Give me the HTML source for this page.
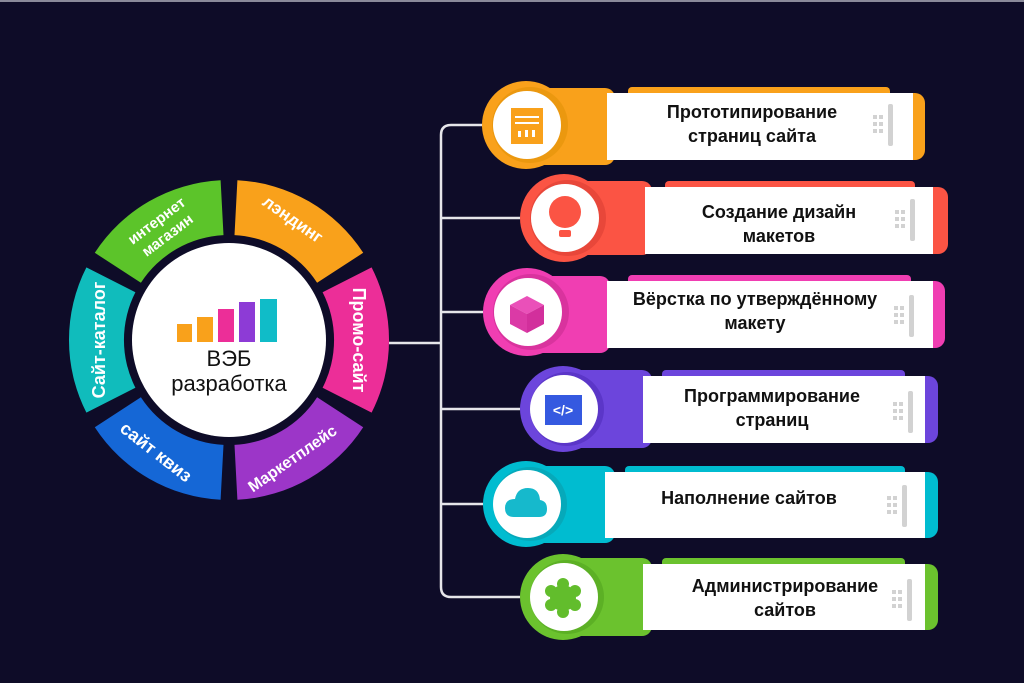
<!DOCTYPE html>
<html><head><meta charset="utf-8"><style>
html,body{margin:0;padding:0;background:#0e0c28;}
svg{display:block}
text{font-family:"Liberation Sans","DejaVu Sans",sans-serif;}
</style></head><body>
<svg width="1024" height="683" viewBox="0 0 1024 683" xmlns="http://www.w3.org/2000/svg">
<rect width="1024" height="683" fill="#0e0c28"/>
<rect width="1024" height="2" fill="#8a8a9a"/>

<g stroke="#e6e6ea" stroke-width="2.5" fill="none">
<path d="M483 125 H451 Q441 125 441 135 V587 Q441 597 451 597 H520"/>
<line x1="389" y1="343" x2="441" y2="343"/>
<line x1="441" y1="218" x2="520" y2="218"/>
<line x1="441" y1="312" x2="483" y2="312"/>
<line x1="441" y1="409" x2="520" y2="409"/>
<line x1="441" y1="504" x2="483" y2="504"/>
</g>

<path d="M371.6 267.4 A160 160 0 0 1 371.6 412.6 L322.6 387.7 A105 105 0 0 0 322.6 292.3 Z" fill="#ec2e98"/>
<path d="M363.2 427.2 A160 160 0 0 1 237.4 499.8 L234.5 444.9 A105 105 0 0 0 317.1 397.2 Z" fill="#9c36c8"/>
<path d="M220.6 499.8 A160 160 0 0 1 94.8 427.2 L140.9 397.2 A105 105 0 0 0 223.5 444.9 Z" fill="#1567d6"/>
<path d="M86.4 412.6 A160 160 0 0 1 86.4 267.4 L135.4 292.3 A105 105 0 0 0 135.4 387.7 Z" fill="#10bcbc"/>
<path d="M94.8 252.8 A160 160 0 0 1 220.6 180.2 L223.5 235.1 A105 105 0 0 0 140.9 282.8 Z" fill="#5cc42a"/>
<path d="M237.4 180.2 A160 160 0 0 1 363.2 252.8 L317.1 282.8 A105 105 0 0 0 234.5 235.1 Z" fill="#f9a11b"/>
<circle cx="229" cy="340" r="97" fill="#fff"/>

<g fill="#fff" font-weight="bold" font-size="16" text-anchor="middle">
<text transform="translate(359,340) rotate(90)" dy="6" font-size="18">Промо-сайт</text>
<text transform="translate(99,340) rotate(-90)" dy="6" font-size="18">Сайт-каталог</text>
<text transform="translate(293,219) rotate(35)" dy="6" font-size="17">лэндинг</text>
<text transform="translate(162,228) rotate(-37)" font-size="15"><tspan x="0" dy="-4">интернет</tspan><tspan x="0" dy="18">магазин</tspan></text>
<text transform="translate(156,452) rotate(38)" dy="6" font-size="18">сайт квиз</text>
<text transform="translate(292,458) rotate(-35)" dy="6" font-size="16">Маркетплейс</text>
</g>

<rect x="177" y="324" width="15" height="18" fill="#f9a11b"/>
<rect x="197" y="317" width="16" height="25" fill="#f9a11b"/>
<rect x="218" y="309" width="16" height="33" fill="#ec2e98"/>
<rect x="239" y="302" width="16" height="40" fill="#8d3bd6"/>
<rect x="260" y="299" width="17" height="43" fill="#10bcc8"/>
<g fill="#111" font-size="22" text-anchor="middle">
<text x="229" y="366">ВЭБ</text>
<text x="229" y="391">разработка</text>
</g>

<rect x="520" y="88" width="95" height="77" rx="10" fill="#f9a11b"/>
<rect x="628" y="87" width="262" height="12" rx="4" fill="#f9a11b"/>
<rect x="890" y="93" width="35" height="67" rx="10" fill="#f9a11b"/>
<rect x="607" y="93" width="306" height="67" fill="#fff"/>
<circle cx="526" cy="125" r="44" fill="#f9a11b"/>
<circle cx="530" cy="125" r="38" fill="#eb980f"/>
<circle cx="527" cy="125" r="34" fill="#fff"/>
<rect x="511" y="108" width="32" height="36" fill="#f9a11b"/>
<rect x="515" y="116" width="24" height="2" fill="#fff"/><rect x="515" y="122" width="24" height="2" fill="#fff"/>
<rect x="518" y="131" width="3" height="6" fill="#fff"/><rect x="525" y="130" width="3" height="7" fill="#fff"/><rect x="532" y="130" width="3" height="7" fill="#fff"/>

<rect x="560" y="181" width="92" height="74" rx="10" fill="#fb5444"/>
<rect x="665" y="181" width="250" height="12" rx="4" fill="#fb5444"/>
<rect x="920" y="187" width="28" height="67" rx="10" fill="#fb5444"/>
<rect x="645" y="187" width="288" height="67" fill="#fff"/>
<circle cx="564" cy="218" r="44" fill="#fb5444"/>
<circle cx="568" cy="218" r="38" fill="#e8473a"/>
<circle cx="565" cy="218" r="34" fill="#fff"/>
<circle cx="565" cy="212" r="16" fill="#fb5444"/>
<rect x="559" y="230" width="12" height="7" rx="2" fill="#fb5444"/>

<rect x="520" y="276" width="90" height="77" rx="10" fill="#f03eb2"/>
<rect x="628" y="275" width="283" height="12" rx="4" fill="#f03eb2"/>
<rect x="920" y="281" width="25" height="67" rx="10" fill="#f03eb2"/>
<rect x="607" y="281" width="326" height="67" fill="#fff"/>
<circle cx="527" cy="312" r="44" fill="#f03eb2"/>
<circle cx="531" cy="312" r="38" fill="#d9339e"/>
<circle cx="528" cy="312" r="34" fill="#fff"/>
<polygon points="527,296 544,305 527,314 510,305" fill="#ea50b9"/>
<polygon points="510,305 527,314 527,333 510,324" fill="#db3aa6"/>
<polygon points="544,305 527,314 527,333 544,324" fill="#d22f9c"/>

<rect x="560" y="370" width="92" height="78" rx="10" fill="#6c45dc"/>
<rect x="662" y="370" width="243" height="12" rx="4" fill="#6c45dc"/>
<rect x="915" y="376" width="23" height="67" rx="10" fill="#6c45dc"/>
<rect x="643" y="376" width="282" height="67" fill="#fff"/>
<circle cx="563" cy="409" r="43" fill="#6c45dc"/>
<circle cx="567" cy="409" r="37" fill="#5b36c8"/>
<circle cx="564" cy="409" r="34" fill="#fff"/>
<rect x="545" y="395" width="37" height="30" fill="#3559e0"/>
<text x="563" y="415" fill="#fff" font-size="14" font-weight="bold" text-anchor="middle">&lt;/&gt;</text>

<rect x="520" y="466" width="95" height="77" rx="10" fill="#00bcd0"/>
<rect x="625" y="466" width="280" height="12" rx="4" fill="#00bcd0"/>
<rect x="915" y="472" width="23" height="66" rx="10" fill="#00bcd0"/>
<rect x="605" y="472" width="320" height="66" fill="#fff"/>
<circle cx="526" cy="504" r="43" fill="#00bcd0"/>
<circle cx="530" cy="504" r="37" fill="#06a9ba"/>
<circle cx="527" cy="504" r="34" fill="#fff"/>
<path d="M514 517 Q505 517 505 508 Q505 499 515 499 Q517 488 528 488 Q539 488 540 500 Q547 501 547 509 Q547 517 539 517 Z" fill="#16b9cc"/>

<rect x="560" y="558" width="92" height="78" rx="10" fill="#6bc22e"/>
<rect x="662" y="558" width="243" height="12" rx="4" fill="#6bc22e"/>
<rect x="915" y="564" width="23" height="66" rx="10" fill="#6bc22e"/>
<rect x="643" y="564" width="282" height="66" fill="#fff"/>
<circle cx="563" cy="597" r="43" fill="#6bc22e"/>
<circle cx="567" cy="597" r="37" fill="#5cb025"/>
<circle cx="564" cy="597" r="34" fill="#fff"/>
<g fill="#62bd2c">
<circle cx="563" cy="598" r="13"/>
<circle cx="563" cy="584" r="6"/><circle cx="563" cy="612" r="6"/>
<circle cx="551" cy="591" r="6"/><circle cx="575" cy="591" r="6"/>
<circle cx="551" cy="605" r="6"/><circle cx="575" cy="605" r="6"/>
</g>

<g fill="#d2d2d2">
<g transform="translate(873,115)"><rect width="4" height="4"/><rect x="6" width="4" height="4"/><rect y="7" width="4" height="4"/><rect x="6" y="7" width="4" height="4"/><rect y="14" width="4" height="4"/><rect x="6" y="14" width="4" height="4"/><rect x="15" y="-11" width="5" height="42" rx="2"/></g>
<g transform="translate(895,210)"><rect width="4" height="4"/><rect x="6" width="4" height="4"/><rect y="7" width="4" height="4"/><rect x="6" y="7" width="4" height="4"/><rect y="14" width="4" height="4"/><rect x="6" y="14" width="4" height="4"/><rect x="15" y="-11" width="5" height="42" rx="2"/></g>
<g transform="translate(894,306)"><rect width="4" height="4"/><rect x="6" width="4" height="4"/><rect y="7" width="4" height="4"/><rect x="6" y="7" width="4" height="4"/><rect y="14" width="4" height="4"/><rect x="6" y="14" width="4" height="4"/><rect x="15" y="-11" width="5" height="42" rx="2"/></g>
<g transform="translate(893,402)"><rect width="4" height="4"/><rect x="6" width="4" height="4"/><rect y="7" width="4" height="4"/><rect x="6" y="7" width="4" height="4"/><rect y="14" width="4" height="4"/><rect x="6" y="14" width="4" height="4"/><rect x="15" y="-11" width="5" height="42" rx="2"/></g>
<g transform="translate(887,496)"><rect width="4" height="4"/><rect x="6" width="4" height="4"/><rect y="7" width="4" height="4"/><rect x="6" y="7" width="4" height="4"/><rect y="14" width="4" height="4"/><rect x="6" y="14" width="4" height="4"/><rect x="15" y="-11" width="5" height="42" rx="2"/></g>
<g transform="translate(892,590)"><rect width="4" height="4"/><rect x="6" width="4" height="4"/><rect y="7" width="4" height="4"/><rect x="6" y="7" width="4" height="4"/><rect y="14" width="4" height="4"/><rect x="6" y="14" width="4" height="4"/><rect x="15" y="-11" width="5" height="42" rx="2"/></g>
</g>

<g fill="#111" font-size="18" font-weight="bold" text-anchor="middle">
<text x="752" y="118">Прототипирование</text>
<text x="752" y="142">страниц сайта</text>
<text x="779" y="218">Создание дизайн</text>
<text x="779" y="242">макетов</text>
<text x="755" y="305">Вёрстка по утверждённому</text>
<text x="755" y="329">макету</text>
<text x="772" y="402">Программирование</text>
<text x="772" y="426">страниц</text>
<text x="749" y="504">Наполнение сайтов</text>
<text x="785" y="592">Администрирование</text>
<text x="785" y="616">сайтов</text>
</g>
</svg>
</body></html>
